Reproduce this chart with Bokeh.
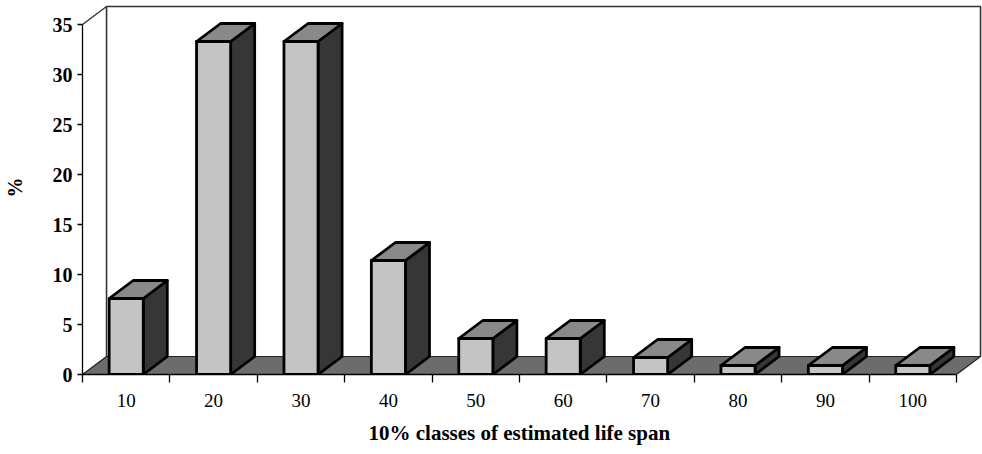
from bokeh.plotting import figure
from bokeh.models import FixedTicker, Range1d, Title
from bokeh.embed import file_html
from bokeh.resources import INLINE

# ---- data ----
categories = ["10", "20", "30", "40", "50", "60", "70", "80", "90", "100"]
values = [7.6, 33.3, 33.3, 11.4, 3.6, 3.6, 1.7, 0.9, 0.9, 0.9]
y_ticks = [0, 5, 10, 15, 20, 25, 30, 35]
y_max = 35
x_title = "10% classes of estimated life span"
y_title = "%"

# ---- styling constants (3D look) ----
BAR_W = 0.39        # front face width, in category units
DX = 0.275          # depth offset, x (category units)
DY = 1.8            # depth offset, y (value units)
PX_X = 87.4         # px per category
PX_Y = 10.0         # px per value unit
FONT = "Liberation Serif"

W, H = 982, 454
BL, BB = 82, 80
frame_w = W - BL
frame_h = H - BB

n = len(categories)
x_end = frame_w / PX_X
y_end = frame_h / PX_Y

p = figure(width=W, height=H, output_backend="svg", toolbar_location=None,
           x_range=Range1d(0, x_end), y_range=Range1d(0, y_end),
           min_border_left=BL, min_border_bottom=BB, min_border_top=0, min_border_right=0)
p.outline_line_color = None
p.grid.visible = False
p.background_fill_color = "white"
p.border_fill_color = "white"

# back wall frame
wall_top = min(y_max + DY, y_end - 0.06)
wall_right = min(n + DX, x_end - 0.02)
p.line([DX, DX, wall_right, wall_right], [DY, wall_top, wall_top, DY],
       line_color="#333333", line_width=1.6)
p.line([0, DX], [y_max, wall_top], line_color="#333333", line_width=1.4)

# floor
p.patch([0, n, n + DX, DX], [0, 0, DY, DY], fill_color="#6c6c6c",
        line_color="#222222", line_width=1.2)

# bars
fx, fy, sx, sy, tx, ty = [], [], [], [], [], []
for i, v in enumerate(values):
    c = i + 0.5
    x0, x1 = c - BAR_W / 2, c + BAR_W / 2
    fx.append([x0, x1, x1, x0]); fy.append([0, 0, v, v])
    sx.append([x1, x1 + DX, x1 + DX, x1]); sy.append([0, DY, v + DY, v])
    tx.append([x0, x1, x1 + DX, x0 + DX]); ty.append([v, v, v + DY, v + DY])

p.patches(sx, sy, fill_color="#363636", line_color="black", line_width=2.8, line_join="round")
p.patches(tx, ty, fill_color="#898989", line_color="black", line_width=2.8, line_join="round")
p.patches(fx, fy, fill_color="#c4c4c4", line_color="black", line_width=2.8, line_join="round")

# x axis: boundary ticks as minor ticks, labels at centres
xa = p.xaxis[0]
xa.ticker = FixedTicker(ticks=[i + 0.5 for i in range(n)], minor_ticks=list(range(n + 1)))
xa.major_label_overrides = {i + 0.5: categories[i] for i in range(n)}
xa.bounds = (0, n)
xa.major_tick_out = 0
xa.major_tick_in = 0
xa.minor_tick_out = 8
xa.minor_tick_in = 0
xa.minor_tick_line_color = "black"
xa.minor_tick_line_width = 1.3
xa.axis_line_color = "black"
xa.axis_line_width = 1.3
xa.major_label_standoff = 11
xa.major_label_text_font = FONT
xa.major_label_text_font_size = "19px"
xa.major_label_text_color = "black"

# axis title under the category span (left-aligned with an offset inside the below panel)
title = Title(text=x_title, align="left", offset=286, vertical_align="bottom", standoff=18,
              text_font=FONT, text_font_style="bold", text_font_size="21px",
              text_color="black")
p.add_layout(title, "below")

ya = p.yaxis[0]
ya.ticker = FixedTicker(ticks=y_ticks, minor_ticks=[])
ya.bounds = (0, y_max)
ya.major_tick_out = 5
ya.major_tick_in = 0
ya.major_tick_line_width = 1.3
ya.axis_line_width = 1.3
ya.axis_line_color = "black"
ya.major_label_standoff = 5
ya.major_label_text_font = FONT
ya.major_label_text_font_style = "bold"
ya.major_label_text_font_size = "20px"
ya.major_label_text_color = "black"
ya.axis_label = y_title
ya.axis_label_text_font = FONT
ya.axis_label_text_font_style = "bold"
ya.axis_label_text_font_size = "20px"
ya.axis_label_text_color = "black"
ya.axis_label_standoff = 24

open("out.html", "w").write(file_html(p, INLINE))
